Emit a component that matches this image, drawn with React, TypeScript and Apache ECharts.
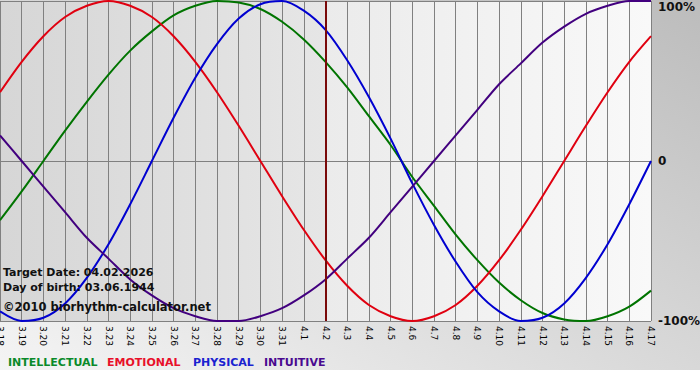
import React, { useEffect, useRef } from "react";
import * as echarts from "echarts";

const days = [
  "3.18", "3.19", "3.20", "3.21", "3.22", "3.23", "3.24", "3.25", "3.26", "3.27", "3.28",
  "3.29", "3.30", "3.31", "4.1", "4.2", "4.3", "4.4", "4.5", "4.6", "4.7", "4.8",
  "4.9", "4.10", "4.11", "4.12", "4.13", "4.14", "4.15", "4.16", "4.17",
];
const targetDay = "4.2";

const intellectual = [
  -0.37, -0.19, 0.0, 0.19, 0.37, 0.54, 0.69, 0.81, 0.91, 0.97, 1.0,
  0.99, 0.95, 0.87, 0.76, 0.62, 0.46, 0.28, 0.1, -0.1, -0.28, -0.46,
  -0.62, -0.76, -0.87, -0.95, -0.99, -1.0, -0.97, -0.91, -0.81,
];
const emotional = [
  0.43, 0.62, 0.78, 0.9, 0.97, 1.0, 0.97, 0.9, 0.78, 0.62, 0.43,
  0.22, 0.0, -0.22, -0.43, -0.62, -0.78, -0.9, -0.97, -1.0, -0.97, -0.9,
  -0.78, -0.62, -0.43, -0.22, 0.0, 0.22, 0.43, 0.62, 0.78,
];
const physical = [
  -0.94, -1.0, -0.98, -0.89, -0.73, -0.52, -0.27, 0.0, 0.27, 0.52, 0.73,
  0.89, 0.98, 1.0, 0.94, 0.82, 0.63, 0.4, 0.14, -0.14, -0.4, -0.63,
  -0.82, -0.94, -1.0, -0.98, -0.89, -0.73, -0.52, -0.27, 0.0,
];
const intuitive = [
  0.16, 0.0, -0.16, -0.32, -0.48, -0.61, -0.74, -0.84, -0.92, -0.97, -1.0,
  -1.0, -0.97, -0.92, -0.84, -0.74, -0.61, -0.48, -0.32, -0.16, 0.0, 0.16,
  0.32, 0.48, 0.61, 0.74, 0.84, 0.92, 0.97, 1.0, 1.0,
];

const seriesNames = ["INTELLECTUAL", "EMOTIONAL", "PHYSICAL", "INTUITIVE"];
const lineColors = ["#007400", "#e00010", "#0000d0", "#42007f"];
const legendColors = ["#0a8a2a", "#e8102a", "#1a22d0", "#4a0a90"];
const legendX = [8, 107, 193, 264];
const infoLines = ["Target Date: 04.02.2026", "Day of birth: 03.06.1944"];
const copyright = "\u00a92010 biorhythm-calculator.net";

export default function App() {
  const ref = useRef<HTMLDivElement>(null);
  useEffect(() => {
    if (!ref.current) return;
    const chart = echarts.init(ref.current, undefined, { renderer: "svg" });
    const data = [intellectual, emotional, physical, intuitive];
    const series: any[] = [
      {
        type: "line",
        name: "bg",
        data: [],
        z: -1,
        silent: true,
        markArea: {
          silent: true,
          z: -1,
          data: [
            [
              {
                xAxis: days[0],
                itemStyle: {
                  color: new echarts.graphic.LinearGradient(0, 0, 1, 0, [
                    { offset: 0, color: "#d6d6d6" },
                    { offset: 1, color: "#e6e6e6" },
                  ]),
                },
              },
              { xAxis: targetDay },
            ],
            [
              {
                xAxis: targetDay,
                itemStyle: {
                  color: new echarts.graphic.LinearGradient(0, 0, 1, 0, [
                    { offset: 0, color: "#ebebeb" },
                    { offset: 1, color: "#f9f9f9" },
                  ]),
                },
              },
              { xAxis: days[days.length - 1] },
            ],
          ],
        },
      },
    ];
    data.forEach((d, k) => {
      series.push({
        type: "line",
        name: seriesNames[k],
        data: d,
        smooth: 0.3,
        symbol: "none",
        lineStyle: { color: lineColors[k], width: 2 },
        z: 3,
      });
    });
    series.push({
      type: "line",
      name: "marker",
      data: [],
      z: 5,
      markLine: {
        silent: true,
        symbol: "none",
        z: 6,
        label: { show: false },
        lineStyle: { color: "#7a0a0a", width: 2, type: "solid" },
        data: [{ xAxis: targetDay }],
      },
    });

    const graphics: any[] = [
      {
        type: "rect",
        z: -100,
        shape: { x: 0, y: 0, width: 700, height: 370 },
        style: {
          fill: new echarts.graphic.LinearGradient(0, 1, 1, 0, [
            { offset: 0, color: "#f4f4f4" },
            { offset: 1, color: "#bcbcbc" },
          ]),
        },
        silent: true,
      },
    ];
    infoLines.forEach((t, i) => {
      graphics.push({
        type: "text",
        x: 3,
        y: 272 + i * 15,
        z: 100,
        style: {
          text: t,
          font: 'bold 11px "DejaVu Sans"',
          fill: "#111",
          verticalAlign: "middle",
        },
      });
    });
    graphics.push({
      type: "text",
      x: 3,
      y: 307,
      z: 100,
      style: {
        text: copyright,
        font: 'bold 11.5px "DejaVu Sans"',
        fill: "#111",
        verticalAlign: "middle",
      },
    });
    seriesNames.forEach((n, k) => {
      graphics.push({
        type: "text",
        x: legendX[k],
        y: 362,
        z: 100,
        style: {
          text: n,
          font: 'bold 11px "DejaVu Sans"',
          fill: legendColors[k],
          verticalAlign: "middle",
        },
      });
    });

    chart.setOption({
      animation: false,
      grid: {
        left: 0,
        right: 49,
        top: 1,
        bottom: 59,
        containLabel: false,
        outerBoundsMode: "none",
      },
      xAxis: {
        type: "category",
        data: days,
        boundaryGap: false,
        z: 1,
        axisLine: { show: true, lineStyle: { color: "#808080", width: 1 } },
        axisTick: { show: true, length: 3, lineStyle: { color: "#808080" } },
        splitLine: { show: true, lineStyle: { color: "#808080", width: 1 } },
        axisLabel: {
          interval: 0,
          rotate: -90,
          fontSize: 9,
          fontFamily: "DejaVu Sans",
          color: "#000",
          margin: 5,
        },
      },
      yAxis: {
        type: "value",
        position: "right",
        min: -1,
        max: 1,
        interval: 1,
        z: 1,
        axisLine: { show: false },
        axisTick: { show: false },
        splitLine: { show: true, lineStyle: { color: "#808080", width: 1 } },
        axisLabel: {
          margin: 7,
          fontSize: 12,
          fontWeight: "bold",
          fontFamily: "DejaVu Sans",
          color: "#111",
          verticalAlignMaxLabel: "top",
          formatter: (v: number) => (v === 0 ? "0" : Math.round(v * 100) + "%"),
        },
      },
      series,
      graphic: graphics,
    });
    return () => chart.dispose();
  }, []);
  return (
    <div
      ref={ref}
      style={{ position: "fixed", left: 0, top: 0, width: 700, height: 380, background: "#fff" }}
    />
  );
}
